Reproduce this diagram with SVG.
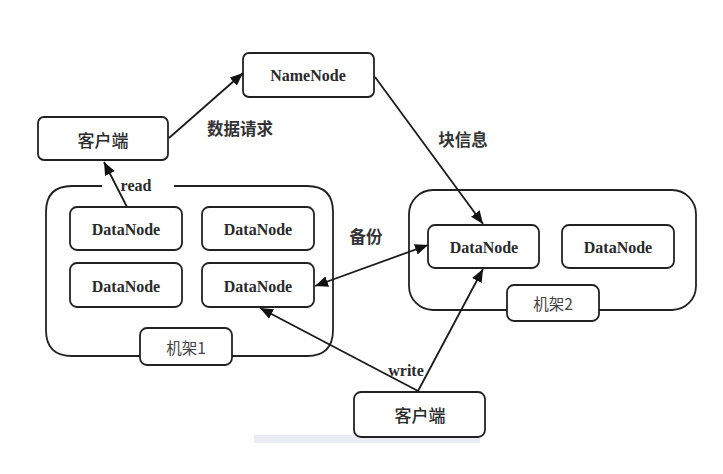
<svg xmlns="http://www.w3.org/2000/svg" width="723" height="474" viewBox="0 0 723 474">
<style>
.box{fill:#fff;stroke:#222;stroke-width:1.8}
.rack{fill:none;stroke:#222;stroke-width:1.8}
.en{font-family:"Liberation Serif",serif;font-weight:bold;font-size:16px;fill:#2a2a2a;text-anchor:middle;dominant-baseline:central}
.zh{font-family:"Noto Sans CJK SC",sans-serif;font-weight:500;font-size:17px;fill:#2a2a2a;text-anchor:middle;dominant-baseline:central}
.zhb{font-family:"Noto Sans CJK SC",sans-serif;font-weight:bold;font-size:16.5px;fill:#333;text-anchor:middle;dominant-baseline:central}
.lbl{font-family:"Noto Sans CJK SC",sans-serif;font-size:15.5px;fill:#444;text-anchor:middle;dominant-baseline:central}
.edge{fill:none;stroke:#1a1a1a;stroke-width:1.8}
</style>
<defs>
<marker id="arr" viewBox="0 0 12 10" refX="12" refY="5" markerWidth="13" markerHeight="11" markerUnits="userSpaceOnUse" orient="auto-start-reverse">
<path d="M0,0 L12,5 L0,10 z" fill="#111"/>
</marker>
</defs>
<rect width="723" height="474" fill="#fff"/>
<rect x="254" y="435" width="226" height="8" fill="#ebebf5"/>

<g id="rack1">
<path class="rack" d="M102,186 L72,186 Q46,186 46,212 L46,330 Q46,356 72,356 L307,356 Q333,356 333,330 L333,212 Q333,186 307,186 L174,186"/>
<rect class="box" x="140" y="328" width="92" height="37" rx="7"/>
<text class="lbl" x="186" y="347">机架1</text>
</g>
<g id="rack2">
<rect class="rack" x="409" y="190" width="287" height="120" rx="24"/>
<rect class="box" x="507" y="285" width="92" height="36" rx="7"/>
<text class="lbl" x="553" y="303">机架2</text>
</g>

<g id="client1">
<rect class="box" x="38" y="117" width="130" height="43" rx="6"/>
<text class="zh" x="103" y="139">客户端</text>
</g>
<g id="namenode">
<rect class="box" x="243" y="53" width="131" height="44" rx="6"/>
<text class="en" x="308" y="75">NameNode</text>
</g>
<g id="dn1">
<rect class="box" x="70" y="207" width="112" height="43" rx="7"/>
<text class="en" x="126" y="229">DataNode</text>
</g>
<g id="dn2">
<rect class="box" x="202" y="207" width="112" height="43" rx="7"/>
<text class="en" x="258" y="229">DataNode</text>
</g>
<g id="dn3">
<rect class="box" x="70" y="263" width="112" height="44" rx="7"/>
<text class="en" x="126" y="286">DataNode</text>
</g>
<g id="dn4">
<rect class="box" x="202" y="263" width="112" height="44" rx="7"/>
<text class="en" x="258" y="286">DataNode</text>
</g>
<g id="dn5">
<rect class="box" x="428" y="225" width="111" height="43" rx="7"/>
<text class="en" x="484" y="247">DataNode</text>
</g>
<g id="dn6">
<rect class="box" x="562" y="225" width="112" height="43" rx="7"/>
<text class="en" x="618" y="247">DataNode</text>
</g>
<g id="client2">
<rect class="box" x="354" y="392" width="131" height="45" rx="7"/>
<text class="zh" x="420" y="414">客户端</text>
</g>

<g id="connectors">
<line class="edge" x1="169" y1="138" x2="243" y2="73" marker-end="url(#arr)"/>
<text class="zhb" x="240" y="128">数据请求</text>
<line class="edge" x1="127" y1="207" x2="104" y2="162" marker-end="url(#arr)"/>
<text class="en" x="136" y="185">read</text>
<line class="edge" x1="375" y1="77" x2="483" y2="224" marker-end="url(#arr)"/>
<text class="zhb" x="463" y="139">块信息</text>
<line class="edge" x1="315" y1="286" x2="428" y2="245" marker-start="url(#arr)" marker-end="url(#arr)"/>
<text class="zhb" x="366" y="236">备份</text>
<line class="edge" x1="418" y1="391" x2="260" y2="308" marker-end="url(#arr)"/>
<line class="edge" x1="418" y1="391" x2="483" y2="269" marker-end="url(#arr)"/>
<text class="en" x="406" y="370">write</text>
</g>
</svg>
